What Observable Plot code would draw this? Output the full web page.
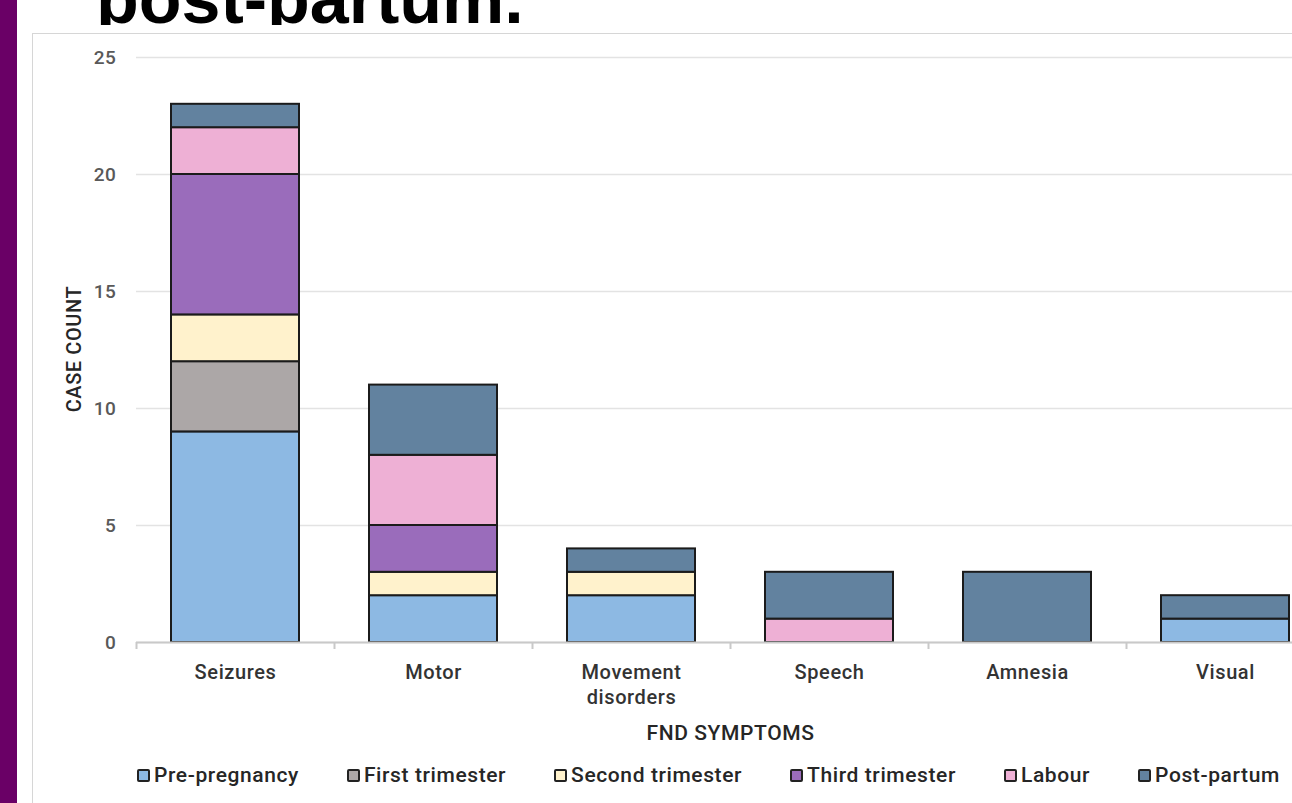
<!DOCTYPE html>
<html>
<head>
<meta charset="utf-8">
<script src="https://cdn.jsdelivr.net/npm/d3@7"></script>
<script src="https://cdn.jsdelivr.net/npm/@observablehq/plot@0.6"></script>
<style>
  html, body { margin: 0; padding: 0; background: #fff; overflow: hidden; width: 1292px; height: 803px; }
  #strip { position: absolute; left: 0; top: 0; width: 17px; height: 803px; background: #6a0066; }
  #titleClip { position: absolute; left: 90px; top: 0; width: 700px; height: 25px; overflow: hidden; }
  #title { position: absolute; left: 6px; bottom: -9px; font: bold 70px "Liberation Sans", Arial, sans-serif; color: #000; white-space: nowrap; line-height: 1; }
  #panel { position: absolute; left: 32px; top: 33px; width: 1400px; height: 900px; border: 1px solid #d6d6d6; border-right: none; background: #fff; }
  #chart { position: absolute; left: 32px; top: 33px; width: 1320px; }
  #chart svg { max-width: none !important; }
  #ytitle { position: absolute; left: 74px; top: 349px; transform: translate(-50%, -50%) rotate(-90deg); font: 500 20px Roboto, sans-serif; letter-spacing: 0.6px; color: #262626; white-space: nowrap; }
  #legend { position: absolute; left: 137px; top: 763px; display: flex; gap: 48px; font: 500 21px Roboto, sans-serif; letter-spacing: 0.6px; color: #262626; white-space: nowrap; }
  .item { display: flex; align-items: center; gap: 4px; }
  .sw { width: 9px; height: 9px; border: 2px solid #222; border-radius: 2px; }
</style>
</head>
<body>
<div id="strip"></div>
<div id="titleClip"><div id="title">post-partum.</div></div>
<div id="panel"></div>
<div id="chart"></div>
<div id="ytitle"></div>
<div id="legend"></div>
<script>
const categories = ["Seizures", "Motor", "Movement\ndisorders", "Speech", "Amnesia", "Visual"];
const stages = ["Pre-pregnancy", "First trimester", "Second trimester", "Third trimester", "Labour", "Post-partum"];
const prePregnancy    = [9, 2, 2, 0, 0, 1];
const firstTrimester  = [3, 0, 0, 0, 0, 0];
const secondTrimester = [2, 1, 1, 0, 0, 0];
const thirdTrimester  = [6, 2, 0, 0, 0, 0];
const labour          = [2, 3, 0, 1, 0, 0];
const postPartum      = [1, 3, 1, 2, 3, 1];
const stageColors = ["#8db9e3", "#aca7a7", "#fff2cc", "#9a6cbb", "#eeb0d5", "#62829f"];
const yTicks = [0, 5, 10, 15, 20, 25];
const xTitle = "FND SYMPTOMS";
const yTitle = "CASE COUNT";

const series = [prePregnancy, firstTrimester, secondTrimester, thirdTrimester, labour, postPartum];
const rows = [];
stages.forEach((s, i) => categories.forEach((c, j) => {
  if (series[i][j] > 0) rows.push({stage: s, category: c, value: series[i][j]});
}));

const W = 1320, ML = 104, MR = 28, MT = 24, MB = 110, H = 719;
const step = (W - ML - MR) / categories.length;
const font = "Roboto, sans-serif";

const chart = Plot.plot({
  width: W, height: H,
  marginLeft: ML, marginRight: MR, marginTop: MT, marginBottom: MB,
  style: {fontFamily: font, fontWeight: 500, letterSpacing: "0.6px", background: "transparent", overflow: "visible", maxWidth: "none"},
  x: {domain: categories, paddingInner: 0.354, paddingOuter: 0.177, label: null},
  y: {domain: [0, 25], label: null},
  color: {domain: stages, range: stageColors},
  marks: [
    Plot.gridY(yTicks, {stroke: "#e3e3e3", strokeOpacity: 1, strokeWidth: 1.5}),
    Plot.barY(rows, {x: "category", y: "value", fill: "stage", stroke: "#1b1b1b", strokeWidth: 2}),
    Plot.ruleY([0], {stroke: "#c9c9c9", strokeWidth: 2}),
    Plot.ruleX(categories, {x: d => d, y1: 0, y2: -0.3, dx: -step / 2, stroke: "#c9c9c9", strokeWidth: 2}),
    Plot.axisY(yTicks, {tickSize: 0, tickPadding: 20, fontSize: 19, fill: "#595959", label: null}),
    Plot.axisX({tickSize: 0, tickPadding: 19, fontSize: 20, fill: "#333", lineHeight: 1.25, label: null}),
    Plot.text([xTitle], {frameAnchor: "bottom", dy: 97, lineAnchor: "bottom", fontSize: 21, fill: "#262626", text: d => d})
  ]
});
document.getElementById("chart").appendChild(chart);
document.getElementById("ytitle").textContent = yTitle;

const legend = document.getElementById("legend");
stages.forEach((s, i) => {
  const item = document.createElement("div");
  item.className = "item";
  const sw = document.createElement("div");
  sw.className = "sw";
  sw.style.background = stageColors[i];
  const t = document.createElement("span");
  t.textContent = s;
  item.appendChild(sw);
  item.appendChild(t);
  legend.appendChild(item);
});
</script>
</body>
</html>
